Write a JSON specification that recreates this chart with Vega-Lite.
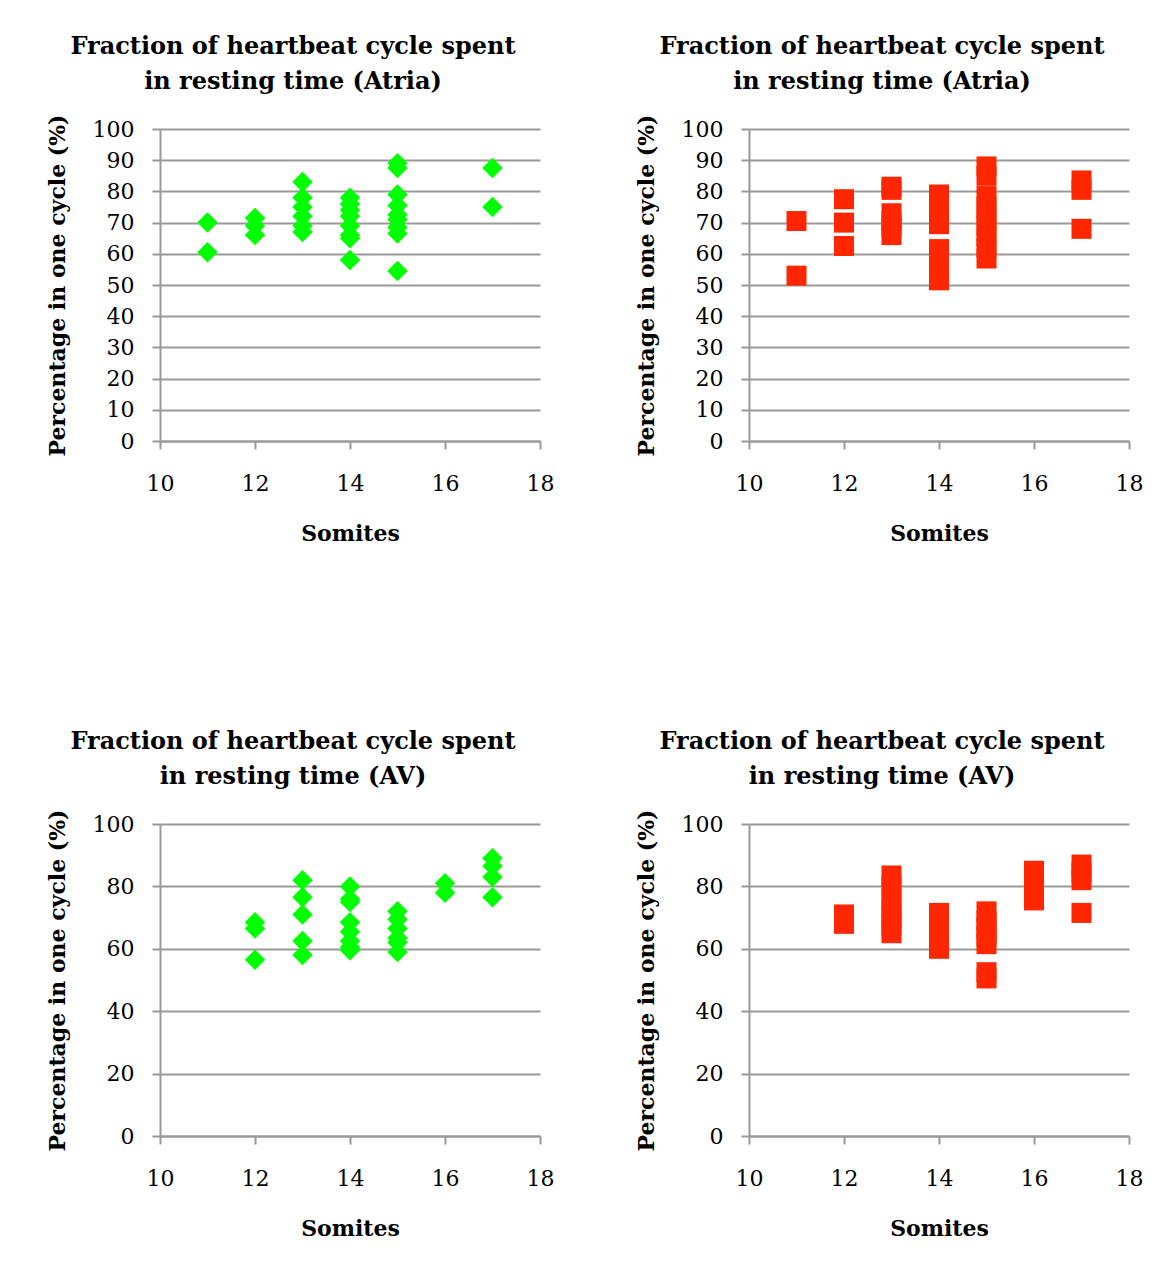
{
  "$schema": "https://vega.github.io/schema/vega-lite/v6.json",
  "padding": {"left": 46, "top": 34, "right": 5, "bottom": 5},
  "background": "white",
  "config": {
    "view": {"stroke": null},
    "font": "DejaVu Serif",
    "title": {"font": "DejaVu Serif", "fontSize": 24, "fontWeight": "bold", "color": "black", "anchor": "middle", "lineHeight": 35, "offset": 20, "dx": -57},
    "axis": {
      "labelFont": "DejaVu Serif", "labelFontSize": 22, "labelColor": "black", "labelFlush": false, "labelOverlap": false,
      "titleFont": "DejaVu Serif", "titleFontSize": 22, "titleFontWeight": "bold", "titleColor": "black",
      "domainColor": "#999999", "domainWidth": 2, "tickColor": "#999999", "tickWidth": 2, "tickSize": 8,
      "gridColor": "#999999", "gridWidth": 2
    },
    "axisX": {"labelPadding": 24, "titlePadding": 29, "grid": false},
    "axisY": {"labelPadding": 18, "titlePadding": 23}
  },
  "datasets": {
    "atria_green": [
      {"somites": 11, "pct": 70}, {"somites": 11, "pct": 60.5},
      {"somites": 12, "pct": 71.5}, {"somites": 12, "pct": 69}, {"somites": 12, "pct": 66},
      {"somites": 13, "pct": 83}, {"somites": 13, "pct": 78}, {"somites": 13, "pct": 75}, {"somites": 13, "pct": 72}, {"somites": 13, "pct": 69}, {"somites": 13, "pct": 67},
      {"somites": 14, "pct": 78}, {"somites": 14, "pct": 76}, {"somites": 14, "pct": 74}, {"somites": 14, "pct": 72}, {"somites": 14, "pct": 69}, {"somites": 14, "pct": 66}, {"somites": 14, "pct": 65}, {"somites": 14, "pct": 58},
      {"somites": 15, "pct": 89}, {"somites": 15, "pct": 87.5}, {"somites": 15, "pct": 79}, {"somites": 15, "pct": 75.5}, {"somites": 15, "pct": 72.5}, {"somites": 15, "pct": 71}, {"somites": 15, "pct": 68.5}, {"somites": 15, "pct": 66.5}, {"somites": 15, "pct": 54.5},
      {"somites": 17, "pct": 87.5}, {"somites": 17, "pct": 75}
    ],
    "atria_red": [
      {"somites": 11, "pct": 70.5}, {"somites": 11, "pct": 53},
      {"somites": 12, "pct": 77.5}, {"somites": 12, "pct": 70}, {"somites": 12, "pct": 62.5},
      {"somites": 13, "pct": 81.5}, {"somites": 13, "pct": 80.5}, {"somites": 13, "pct": 73}, {"somites": 13, "pct": 70.5}, {"somites": 13, "pct": 68.5}, {"somites": 13, "pct": 66},
      {"somites": 14, "pct": 79}, {"somites": 14, "pct": 76}, {"somites": 14, "pct": 72.5}, {"somites": 14, "pct": 69.5}, {"somites": 14, "pct": 61.5}, {"somites": 14, "pct": 58.5}, {"somites": 14, "pct": 55}, {"somites": 14, "pct": 51.5},
      {"somites": 15, "pct": 88}, {"somites": 15, "pct": 85}, {"somites": 15, "pct": 78.5}, {"somites": 15, "pct": 75}, {"somites": 15, "pct": 72}, {"somites": 15, "pct": 69}, {"somites": 15, "pct": 65.5}, {"somites": 15, "pct": 62}, {"somites": 15, "pct": 58.5},
      {"somites": 17, "pct": 83.5}, {"somites": 17, "pct": 80.5}, {"somites": 17, "pct": 68}
    ],
    "av_green": [
      {"somites": 12, "pct": 68.5}, {"somites": 12, "pct": 66.5}, {"somites": 12, "pct": 56.5},
      {"somites": 13, "pct": 82}, {"somites": 13, "pct": 76.5}, {"somites": 13, "pct": 71}, {"somites": 13, "pct": 62.5}, {"somites": 13, "pct": 58},
      {"somites": 14, "pct": 80}, {"somites": 14, "pct": 76}, {"somites": 14, "pct": 75}, {"somites": 14, "pct": 68.5}, {"somites": 14, "pct": 65.5}, {"somites": 14, "pct": 62.5}, {"somites": 14, "pct": 60.5}, {"somites": 14, "pct": 59.5},
      {"somites": 15, "pct": 72}, {"somites": 15, "pct": 69.5}, {"somites": 15, "pct": 66.5}, {"somites": 15, "pct": 63.5}, {"somites": 15, "pct": 62}, {"somites": 15, "pct": 59},
      {"somites": 16, "pct": 81}, {"somites": 16, "pct": 78},
      {"somites": 17, "pct": 89}, {"somites": 17, "pct": 86.5}, {"somites": 17, "pct": 83}, {"somites": 17, "pct": 76.5}
    ],
    "av_red": [
      {"somites": 12, "pct": 71}, {"somites": 12, "pct": 68},
      {"somites": 13, "pct": 83.5}, {"somites": 13, "pct": 80}, {"somites": 13, "pct": 76}, {"somites": 13, "pct": 73}, {"somites": 13, "pct": 70}, {"somites": 13, "pct": 67.5}, {"somites": 13, "pct": 65},
      {"somites": 14, "pct": 71.5}, {"somites": 14, "pct": 68.5}, {"somites": 14, "pct": 66}, {"somites": 14, "pct": 63}, {"somites": 14, "pct": 60},
      {"somites": 15, "pct": 72}, {"somites": 15, "pct": 69}, {"somites": 15, "pct": 66.5}, {"somites": 15, "pct": 64}, {"somites": 15, "pct": 61.5}, {"somites": 15, "pct": 52.5}, {"somites": 15, "pct": 50.5},
      {"somites": 16, "pct": 85}, {"somites": 16, "pct": 81.5}, {"somites": 16, "pct": 79}, {"somites": 16, "pct": 75.5},
      {"somites": 17, "pct": 87}, {"somites": 17, "pct": 84.5}, {"somites": 17, "pct": 82}, {"somites": 17, "pct": 71.5}
    ]
  },
  "spacing": 185,
  "vconcat": [
    {
      "spacing": 81,
      "hconcat": [
        {
          "width": 380, "height": 312,
          "title": {"text": ["Fraction of heartbeat cycle spent", "in resting time (Atria)"]},
          "data": {"name": "atria_green"},
          "mark": {"type": "point", "shape": "diamond", "filled": true, "size": 420, "color": "#00FF00", "opacity": 1},
          "encoding": {
            "x": {"field": "somites", "type": "quantitative", "scale": {"domain": [10, 18], "nice": false, "zero": false}, "axis": {"values": [10, 12, 14, 16, 18], "title": "Somites"}},
            "y": {"field": "pct", "type": "quantitative", "scale": {"domain": [0, 100], "nice": false}, "axis": {"values": [0, 10, 20, 30, 40, 50, 60, 70, 80, 90, 100], "title": "Percentage in one cycle (%)"}}
          }
        },
        {
          "width": 380, "height": 312,
          "title": {"text": ["Fraction of heartbeat cycle spent", "in resting time (Atria)"]},
          "data": {"name": "atria_red"},
          "mark": {"type": "point", "shape": "square", "filled": true, "size": 400, "color": "#FF2600", "opacity": 1},
          "encoding": {
            "x": {"field": "somites", "type": "quantitative", "scale": {"domain": [10, 18], "nice": false, "zero": false}, "axis": {"values": [10, 12, 14, 16, 18], "title": "Somites"}},
            "y": {"field": "pct", "type": "quantitative", "scale": {"domain": [0, 100], "nice": false}, "axis": {"values": [0, 10, 20, 30, 40, 50, 60, 70, 80, 90, 100], "title": "Percentage in one cycle (%)"}}
          }
        }
      ]
    },
    {
      "spacing": 81,
      "hconcat": [
        {
          "width": 380, "height": 312,
          "title": {"text": ["Fraction of heartbeat cycle spent", "in resting time (AV)"]},
          "data": {"name": "av_green"},
          "mark": {"type": "point", "shape": "diamond", "filled": true, "size": 420, "color": "#00FF00", "opacity": 1},
          "encoding": {
            "x": {"field": "somites", "type": "quantitative", "scale": {"domain": [10, 18], "nice": false, "zero": false}, "axis": {"values": [10, 12, 14, 16, 18], "title": "Somites"}},
            "y": {"field": "pct", "type": "quantitative", "scale": {"domain": [0, 100], "nice": false}, "axis": {"values": [0, 20, 40, 60, 80, 100], "title": "Percentage in one cycle (%)"}}
          }
        },
        {
          "width": 380, "height": 312,
          "title": {"text": ["Fraction of heartbeat cycle spent", "in resting time (AV)"]},
          "data": {"name": "av_red"},
          "mark": {"type": "point", "shape": "square", "filled": true, "size": 400, "color": "#FF2600", "opacity": 1},
          "encoding": {
            "x": {"field": "somites", "type": "quantitative", "scale": {"domain": [10, 18], "nice": false, "zero": false}, "axis": {"values": [10, 12, 14, 16, 18], "title": "Somites"}},
            "y": {"field": "pct", "type": "quantitative", "scale": {"domain": [0, 100], "nice": false}, "axis": {"values": [0, 20, 40, 60, 80, 100], "title": "Percentage in one cycle (%)"}}
          }
        }
      ]
    }
  ]
}
